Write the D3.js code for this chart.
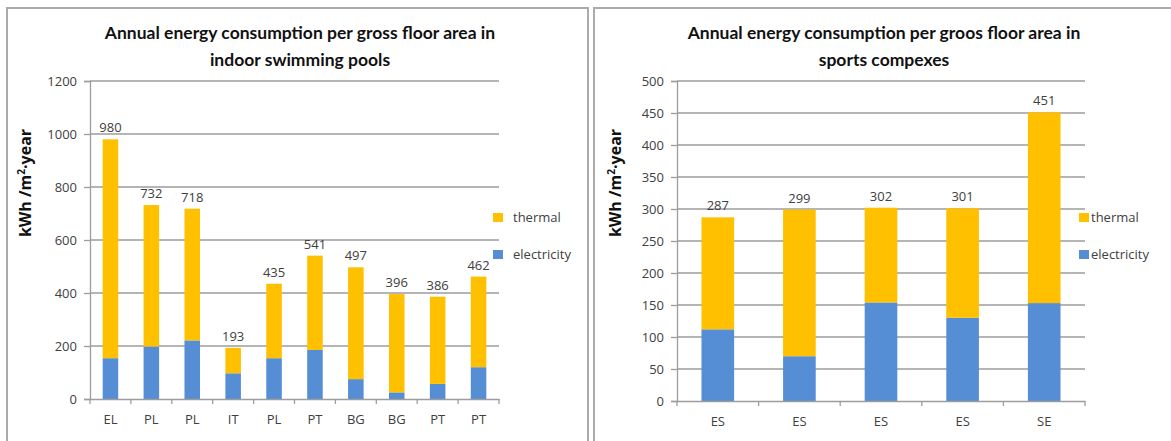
<!DOCTYPE html>
<html lang="en">
<head>
    <meta charset="UTF-8" />
    <title>Annual energy consumption per gross floor area</title>
    <script src="https://d3js.org/d3.v7.min.js"></script>
    <style>
        body {
            margin: 0;
            background: #fff;
        }
        svg {
            display: block;
        }
        .tick-label, .val-label, .legend-label {
            font-family: "Open Sans", sans-serif;
            font-size: 13px;
            fill: #404040;
        }
        .title {
            font-family: Lato, sans-serif;
            font-weight: 700;
            font-size: 17.5px;
            fill: #111;
        }
        .ytitle {
            font-family: "Open Sans", sans-serif;
            font-weight: 700;
            font-size: 16px;
            fill: #111;
        }
    </style>
</head>
<body>
    <svg id="chart"></svg>

    <script>
        // pools chart
        const poolCountries = ["EL", "PL", "PL", "IT", "PL", "PT", "BG", "BG", "PT", "PT"];
        const poolTotal = [980, 732, 718, 193, 435, 541, 497, 396, 386, 462];
        const poolElectricity = [154, 198, 221, 97, 154, 185, 75, 25, 57, 120];
        const poolTicks = [0, 200, 400, 600, 800, 1000, 1200];

        // sports complexes chart
        const sportCountries = ["ES", "ES", "ES", "ES", "SE"];
        const sportTotal = [287, 299, 302, 301, 451];
        const sportElectricity = [112, 70, 154, 130, 153];
        const sportTicks = [0, 50, 100, 150, 200, 250, 300, 350, 400, 450, 500];

        const seriesNames = ["thermal", "electricity"];
        const colors = { thermal: "#FFC000", electricity: "#558ED5" };

        const width = 1171;
        const height = 441;

        const svg = d3.select("#chart")
            .attr("width", width)
            .attr("height", height);

        function drawChart(cfg) {
            const g = svg.append("g");

            // panel frame
            g.append("rect")
                .attr("x", cfg.frame[0])
                .attr("y", cfg.frame[1])
                .attr("width", cfg.frame[2])
                .attr("height", cfg.frame[3])
                .attr("fill", "#fff")
                .attr("stroke", "#ababab")
                .attr("stroke-width", 2);

            const rows = cfg.countries.map((c, i) => ({
                idx: i,
                country: c,
                electricity: cfg.electricity[i],
                thermal: cfg.total[i] - cfg.electricity[i],
                total: cfg.total[i]
            }));

            const x = d3.scaleBand()
                .domain(rows.map(d => d.idx))
                .range([cfg.left, cfg.right])
                .padding(0);

            const y = d3.scaleLinear()
                .domain([0, cfg.ticks[cfg.ticks.length - 1]])
                .range([cfg.bottom, cfg.top]);

            // gridlines
            g.append("g")
                .selectAll("line")
                .data(cfg.ticks.filter(t => t > 0))
                .enter().append("line")
                .attr("x1", cfg.left)
                .attr("x2", cfg.right)
                .attr("y1", d => y(d))
                .attr("y2", d => y(d))
                .attr("stroke", "#9d9d9d")
                .attr("stroke-width", 1.3);

            // y axis
            const yAxis = g.append("g")
                .attr("transform", `translate(${cfg.left},0)`)
                .call(d3.axisLeft(y).tickValues(cfg.ticks).tickFormat(d3.format("d")).tickSize(6).tickPadding(7));
            yAxis.selectAll("path, line").attr("stroke", "#9d9d9d").attr("stroke-width", 1.3);
            yAxis.selectAll("text").attr("class", "tick-label").attr("font-family", null).attr("font-size", null);

            // stacked bars
            const stack = d3.stack().keys(["electricity", "thermal"]);
            const layers = stack(rows);
            const barW = x.bandwidth() * cfg.barRatio;

            g.append("g")
                .selectAll("g")
                .data(layers)
                .enter().append("g")
                .attr("fill", d => colors[d.key])
                .selectAll("rect")
                .data(d => d)
                .enter().append("rect")
                .attr("x", d => x(d.data.idx) + (x.bandwidth() - barW) / 2)
                .attr("width", barW)
                .attr("y", d => y(d[1]))
                .attr("height", d => y(d[0]) - y(d[1]));

            // x axis with ticks between categories
            const xAxis = g.append("g")
                .attr("transform", `translate(0,${cfg.bottom})`)
                .call(d3.axisBottom(x).tickFormat(i => cfg.countries[i]).tickSize(0).tickPadding(16));
            xAxis.select("path").attr("stroke", "#9d9d9d").attr("stroke-width", 1.3);
            xAxis.selectAll("text").attr("class", "tick-label").attr("font-family", null).attr("font-size", null);
            g.append("g")
                .selectAll("line")
                .data(d3.range(rows.length + 1))
                .enter().append("line")
                .attr("x1", i => cfg.left + i * x.step())
                .attr("x2", i => cfg.left + i * x.step())
                .attr("y1", cfg.bottom)
                .attr("y2", cfg.bottom + 5)
                .attr("stroke", "#9d9d9d")
                .attr("stroke-width", 1.3);

            // total labels
            g.append("g")
                .selectAll("text")
                .data(rows)
                .enter().append("text")
                .attr("class", "val-label")
                .attr("x", d => x(d.idx) + x.bandwidth() / 2)
                .attr("y", d => y(d.total) - 7)
                .attr("text-anchor", "middle")
                .text(d => d.total);

            // titles
            g.selectAll(".title")
                .data(cfg.title)
                .enter().append("text")
                .attr("class", "title")
                .attr("x", cfg.titleX)
                .attr("y", (d, i) => 39 + i * 27)
                .attr("text-anchor", "middle")
                .text(d => d);

            const yt = g.append("text")
                .attr("class", "ytitle")
                .attr("transform", `translate(${cfg.yTitleX},183) rotate(-90)`)
                .attr("text-anchor", "middle");
            yt.append("tspan").text("kWh /m");
            yt.append("tspan").attr("font-size", "10px").attr("dy", -6).text("2");
            yt.append("tspan").attr("dy", 6).text("·year");

            // legend
            const lg = g.append("g")
                .selectAll("g")
                .data(seriesNames)
                .enter().append("g")
                .attr("transform", (d, i) => `translate(${cfg.legendX},${213 + i * 37})`);
            lg.append("rect")
                .attr("width", 10)
                .attr("height", 9)
                .attr("fill", d => colors[d]);
            lg.append("text")
                .attr("class", "legend-label")
                .attr("x", cfg.legendGap)
                .attr("y", 9)
                .text(d => d);
        }

        drawChart({
            frame: [7, 8, 581, 445],
            countries: poolCountries,
            total: poolTotal,
            electricity: poolElectricity,
            ticks: poolTicks,
            left: 90, right: 499, top: 81, bottom: 399,
            barRatio: 0.38,
            title: ["Annual energy consumption per gross floor area in", "indoor swimming pools"],
            titleX: 300,
            yTitleX: 31,
            legendX: 493,
            legendGap: 20
        });

        drawChart({
            frame: [594, 8, 590, 445],
            countries: sportCountries,
            total: sportTotal,
            electricity: sportElectricity,
            ticks: sportTicks,
            left: 677, right: 1085, top: 81, bottom: 401,
            barRatio: 0.4,
            title: ["Annual energy consumption per groos floor area in", "sports compexes"],
            titleX: 884,
            yTitleX: 621,
            legendX: 1079,
            legendGap: 12
        });
    </script>
</body>
</html>
